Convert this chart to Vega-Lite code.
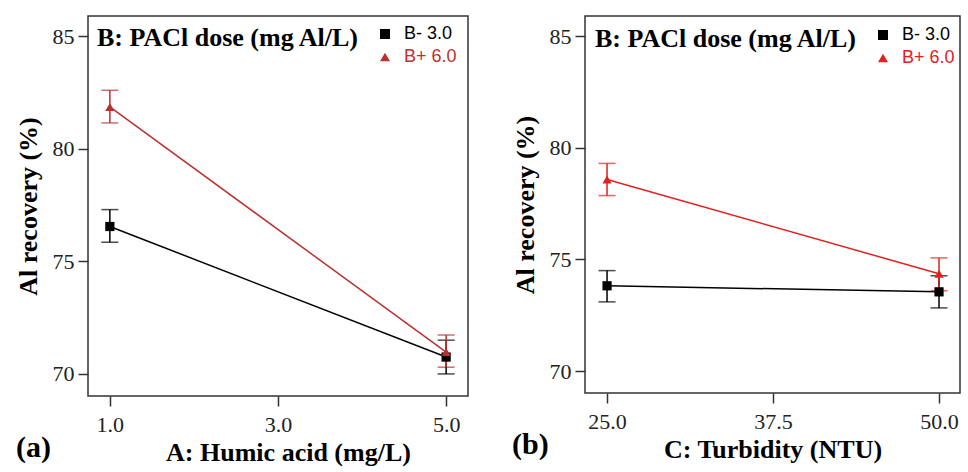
{
  "$schema": "https://vega.github.io/schema/vega-lite/v6.json",
  "background": "white",
  "padding": {"left": 14, "top": 15, "right": 4, "bottom": 4},
  "spacing": 42,
  "datasets": {
    "a": [
      {"x": 1, "series": "B- 3.0", "y": 76.55, "lo": 75.85, "hi": 77.3},
      {"x": 5, "series": "B- 3.0", "y": 70.75, "lo": 70.0, "hi": 71.5},
      {"x": 1, "series": "B+ 6.0", "y": 81.86, "lo": 81.15, "hi": 82.6},
      {"x": 5, "series": "B+ 6.0", "y": 70.97, "lo": 70.3, "hi": 71.73}
    ],
    "b": [
      {"x": 25, "series": "B- 3.0", "y": 73.82, "lo": 73.1, "hi": 74.5},
      {"x": 50, "series": "B- 3.0", "y": 73.55, "lo": 72.83, "hi": 74.27},
      {"x": 25, "series": "B+ 6.0", "y": 78.58, "lo": 77.86, "hi": 79.3},
      {"x": 50, "series": "B+ 6.0", "y": 74.36, "lo": 73.6, "hi": 75.07}
    ]
  },
  "hconcat": [
    {
      "width": 380,
      "height": 380,
      "data": {"name": "a"},
      "title": {"text": "(a)", "orient": "bottom", "anchor": "start", "frame": "bounds", "font": "Liberation Serif", "fontSize": 30, "fontWeight": "bold", "color": "black", "offset": -32, "dx": 1},
      "encoding": {
        "x": {"field": "x", "type": "quantitative", "scale": {"domain": [0.74, 5.26], "nice": false, "zero": false},
          "axis": {"title": "A: Humic acid (mg/L)", "values": [1, 3, 5], "format": ".1f", "titleX": 200}},
        "color": {"field": "series", "type": "nominal", "scale": {"domain": ["B- 3.0", "B+ 6.0"], "range": ["#000000", "#b8312f"]},
          "legend": {"title": "B: PACl dose (mg Al/L)", "orient": "top-left", "offset": 9,
            "encode": {"labels": {"update": {"fill": {"signal": "datum.value === 'B+ 6.0' ? '#c0302c' : '#000000'"}}}}}}
      },
      "layer": [
        {"mark": {"type": "line", "strokeWidth": 1.5},
          "encoding": {"y": {"field": "y", "type": "quantitative", "title": "Al recovery (%)", "scale": {"domain": [69.02, 85.9], "nice": false, "zero": false},
            "axis": {"values": [70, 75, 80, 85]}}}},
        {"mark": {"type": "errorbar", "ticks": {"size": 17, "thickness": 1.5}, "thickness": 1.5},
          "encoding": {"y": {"field": "lo", "type": "quantitative", "title": "Al recovery (%)"}, "y2": {"field": "hi"}}},
        {"mark": {"type": "point", "filled": true, "opacity": 1, "size": 85},
          "encoding": {"y": {"field": "y", "type": "quantitative", "title": "Al recovery (%)"},
            "shape": {"field": "series", "type": "nominal", "scale": {"domain": ["B- 3.0", "B+ 6.0"], "range": ["square", "triangle-up"]}}}}
      ]
    },
    {
      "width": 375,
      "height": 377,
      "data": {"name": "b"},
      "title": {"text": "(b)", "orient": "bottom", "anchor": "start", "frame": "bounds", "font": "Liberation Serif", "fontSize": 30, "fontWeight": "bold", "color": "black", "offset": -32, "dx": 0},
      "encoding": {
        "x": {"field": "x", "type": "quantitative", "scale": {"domain": [23.34, 51.58], "nice": false, "zero": false},
          "axis": {"title": "C: Turbidity (NTU)", "values": [25, 37.5, 50], "format": ".1f"}},
        "color": {"field": "series", "type": "nominal", "scale": {"domain": ["B- 3.0", "B+ 6.0"], "range": ["#000000", "#e3201e"]},
          "legend": {"title": "B: PACl dose (mg Al/L)", "orient": "top-left", "offset": 10,
            "encode": {"labels": {"update": {"fill": {"signal": "datum.value === 'B+ 6.0' ? '#e3201e' : '#000000'"}}}}}}
      },
      "layer": [
        {"mark": {"type": "line", "strokeWidth": 1.5},
          "encoding": {"y": {"field": "y", "type": "quantitative", "title": "Al recovery (%)", "scale": {"domain": [69.02, 85.9], "nice": false, "zero": false},
            "axis": {"values": [70, 75, 80, 85]}}}},
        {"mark": {"type": "errorbar", "ticks": {"size": 17, "thickness": 1.5}, "thickness": 1.5},
          "encoding": {"y": {"field": "lo", "type": "quantitative", "title": "Al recovery (%)"}, "y2": {"field": "hi"}}},
        {"mark": {"type": "point", "filled": true, "opacity": 1, "size": 85},
          "encoding": {"y": {"field": "y", "type": "quantitative", "title": "Al recovery (%)"},
            "shape": {"field": "series", "type": "nominal", "scale": {"domain": ["B- 3.0", "B+ 6.0"], "range": ["square", "triangle-up"]}}}}
      ]
    }
  ],
  "resolve": {"scale": {"color": "independent", "shape": "independent", "x": "independent", "y": "independent"}, "legend": {"color": "independent", "shape": "independent"}},
  "config": {
    "view": {"stroke": "#333333", "strokeWidth": 1.5},
    "axis": {
      "grid": false, "domain": false,
      "labelFont": "Liberation Serif", "labelFontSize": 22, "labelColor": "#222222", "labelPadding": 4,
      "tickColor": "#333333", "tickSize": 10, "tickWidth": 1.5,
      "titleFont": "Liberation Serif", "titleFontSize": 26, "titleFontWeight": "bold", "titleColor": "#000000", "titlePadding": 8
    },
    "axisX": {"labelPadding": 8, "titlePadding": 4},
    "axisY": {"titlePadding": 11},
    "legend": {
      "titleOrient": "left", "titleFont": "Liberation Serif", "titleFontSize": 26, "titleFontWeight": "bold", "titleColor": "#000000",
      "titleLimit": 400, "titlePadding": 16, "titleAnchor": "start",
      "labelFont": "Liberation Sans", "labelFontSize": 18, "labelOffset": 10,
      "symbolSize": 100, "rowPadding": 5, "padding": 0, "symbolStrokeWidth": 0
    }
  }
}
